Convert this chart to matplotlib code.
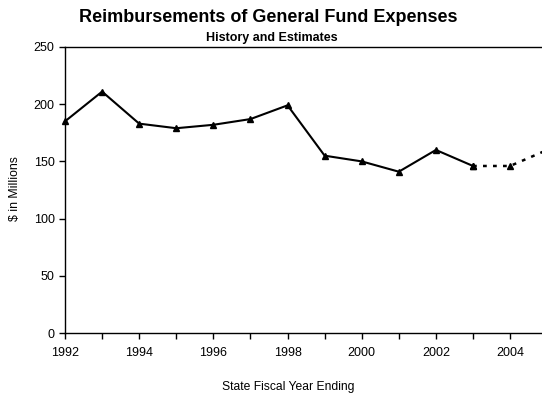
import matplotlib.pyplot as plt

plt.rcParams['font.family'] = ['Liberation Sans', 'DejaVu Sans']

# Actual values (solid) and estimates (dotted)
years_hist = [1992, 1993, 1994, 1995, 1996, 1997, 1998, 1999, 2000, 2001, 2002, 2003]
vals_hist = [185, 211, 183, 179, 182, 187, 199, 155, 150, 141, 160, 146]
years_est = [2003, 2004, 2005]
vals_est = [146, 146, 160]
xticks = [1992, 1994, 1996, 1998, 2000, 2002, 2004]
yticks = [0, 50, 100, 150, 200, 250]

fig = plt.figure(figsize=(5.42, 3.96), dpi=100)
ax = fig.add_axes([65 / 542, 1 - 333 / 396, 1 - 65 / 542, 286 / 396])

ax.plot(years_hist, vals_hist, color='black', lw=1.5, marker='^', ms=5, clip_on=False)
ax.plot(years_est, vals_est, color='black', lw=1.8, ls=(0, (1.5, 2.5)), marker='^', ms=5)

ax.set_xlim(1992, 2004.86)
ax.set_ylim(0, 250)
ax.set_xticks(xticks)
ax.set_xticks(range(1992, 2005), minor=True)
ax.set_yticks(yticks)
ax.tick_params(axis='both', labelsize=9, length=4, width=1, direction='out')
ax.tick_params(axis='x', which='minor', length=4, width=1)
ax.tick_params(axis='x', pad=6)
ax.spines['right'].set_visible(False)
for s in ['left', 'top', 'bottom']:
    ax.spines[s].set_linewidth(1)

fig.text(15 / 542, 1 - 189 / 396, '$ in Millions', rotation=90, ha='center', va='center', fontsize=8.8)
fig.text(288 / 542, 1 - 387 / 396, 'State Fiscal Year Ending', ha='center', va='center', fontsize=8.7)
fig.text(268 / 542, 1 - 17 / 396, 'Reimbursements of General Fund Expenses',
         ha='center', va='center', fontsize=13, fontweight='bold')
fig.text(272 / 542, 1 - 38 / 396, 'History and Estimates',
         ha='center', va='center', fontsize=9, fontweight='bold')

fig.savefig('out.png', dpi=100)
